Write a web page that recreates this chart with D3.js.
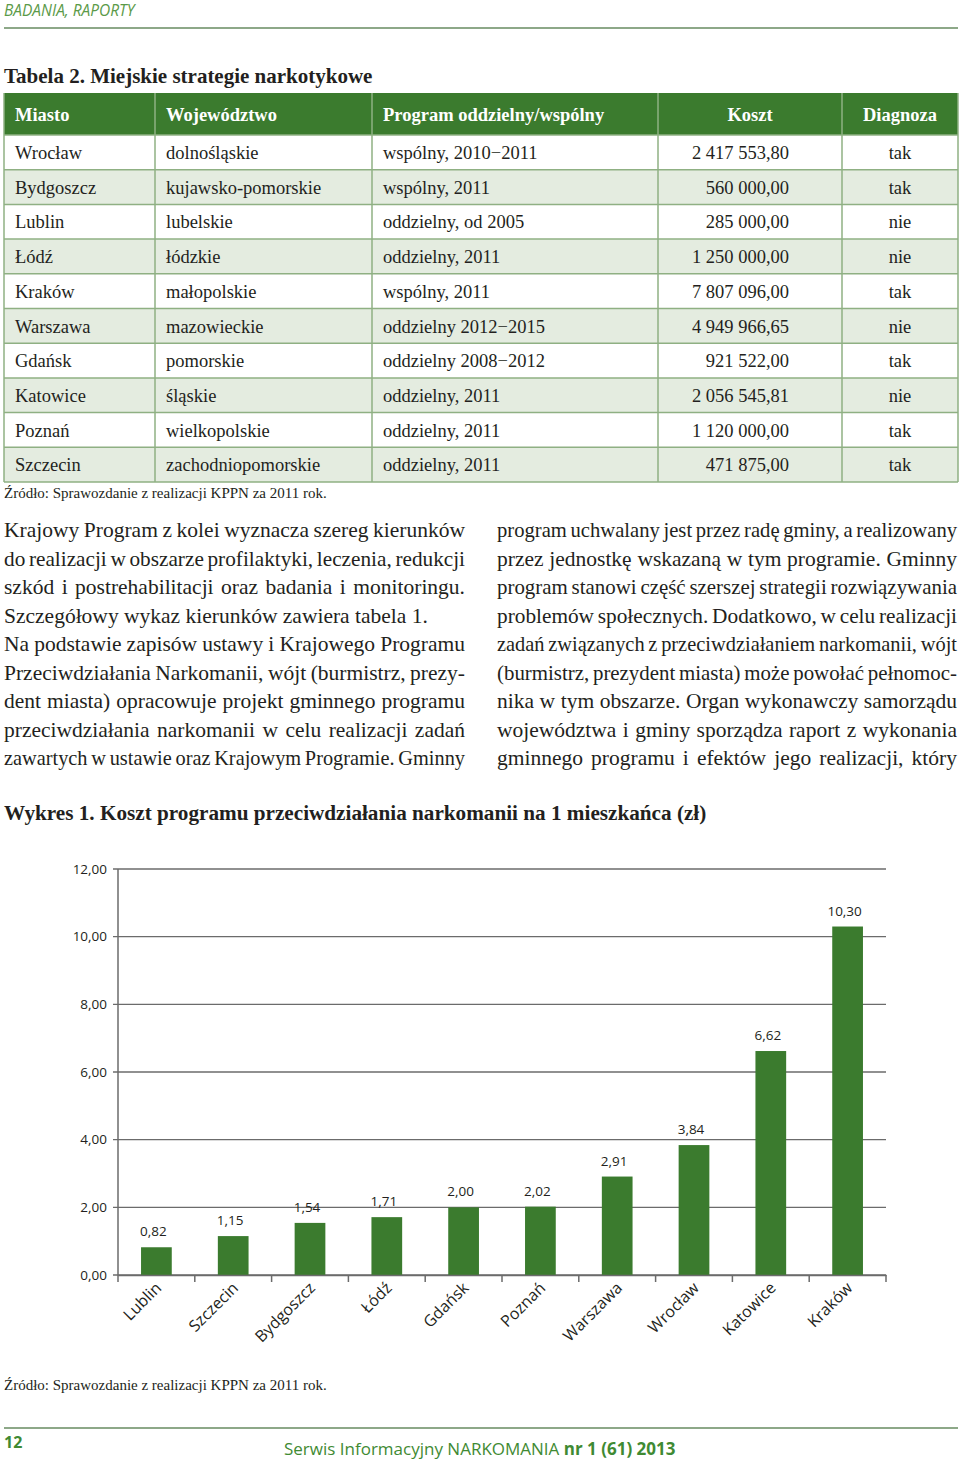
<!DOCTYPE html>
<html><head><meta charset="utf-8">
<script src="https://cdn.jsdelivr.net/npm/d3@7"></script>
<style>
html,body{margin:0;padding:0;background:#fff;}
svg{display:block;}
</style></head>
<body>
<svg id="page" width="960" height="1461"></svg>
<script>
// ---------- DATA ----------
const tableHeaders = ["Miasto", "Województwo", "Program oddzielny/wspólny", "Koszt", "Diagnoza"];
const tableCities = ["Wrocław","Bydgoszcz","Lublin","Łódź","Kraków","Warszawa","Gdańsk","Katowice","Poznań","Szczecin"];
const tableVoivodeships = ["dolnośląskie","kujawsko-pomorskie","lubelskie","łódzkie","małopolskie","mazowieckie","pomorskie","śląskie","wielkopolskie","zachodniopomorskie"];
const tablePrograms = ["wspólny, 2010−2011","wspólny, 2011","oddzielny, od 2005","oddzielny, 2011","wspólny, 2011","oddzielny 2012−2015","oddzielny 2008−2012","oddzielny, 2011","oddzielny, 2011","oddzielny, 2011"];
const tableCosts = ["2 417 553,80","560 000,00","285 000,00","1 250 000,00","7 807 096,00","4 949 966,65","921 522,00","2 056 545,81","1 120 000,00","471 875,00"];
const tableDiagnosis = ["tak","tak","nie","nie","tak","nie","tak","nie","tak","tak"];

const chartCities = ["Lublin","Szczecin","Bydgoszcz","Łódź","Gdańsk","Poznań","Warszawa","Wrocław","Katowice","Kraków"];
const chartValues = [0.82, 1.15, 1.54, 1.71, 2.00, 2.02, 2.91, 3.84, 6.62, 10.30];
const yTickValues = [0, 2, 4, 6, 8, 10, 12];

const leftColumn = [
 ["Krajowy Program z kolei wyznacza szereg kierunków", true],
 ["do realizacji w obszarze profilaktyki, leczenia, redukcji", true],
 ["szkód i postrehabilitacji oraz badania i monitoringu.", true],
 ["Szczegółowy wykaz kierunków zawiera tabela 1.", false],
 ["Na podstawie zapisów ustawy i Krajowego Programu", true],
 ["Przeciwdziałania Narkomanii, wójt (burmistrz, prezy-", true],
 ["dent miasta) opracowuje projekt gminnego programu", true],
 ["przeciwdziałania narkomanii w celu realizacji zadań", true],
 ["zawartych w ustawie oraz Krajowym Programie. Gminny", true]
];
const rightColumn = [
 ["program uchwalany jest przez radę gminy, a realizowany", true],
 ["przez jednostkę wskazaną w tym programie. Gminny", true],
 ["program stanowi część szerszej strategii rozwiązywania", true],
 ["problemów społecznych. Dodatkowo, w celu realizacji", true],
 ["zadań związanych z przeciwdziałaniem narkomanii, wójt", true],
 ["(burmistrz, prezydent miasta) może powołać pełnomoc-", true],
 ["nika w tym obszarze. Organ wykonawczy samorządu", true],
 ["województwa i gminy sporządza raport z wykonania", true],
 ["gminnego programu i efektów jego realizacji, który", true]
];

// ---------- STYLE ----------
const GREEN = "#3b7b2e";
const LIGHT = "#e4ece0";
const BORDER = "#8fb083";
const INK = "#231f20";
const SERIF = "'Liberation Serif', 'Times New Roman', serif";
const SANS = "'Open Sans', 'Noto Sans', sans-serif";

const svg = d3.select("#page");

// ---------- PAGE HEADER ----------
svg.append("text").attr("x", 4).attr("y", 16)
  .attr("font-family", SANS).attr("font-style", "italic").attr("font-size", 15.5)
  .attr("fill", "#5b9a48").text("BADANIA, RAPORTY");
svg.append("line").attr("x1", 4).attr("x2", 958).attr("y1", 28).attr("y2", 28)
  .attr("stroke", "#8da888").attr("stroke-width", 2);

// ---------- TABLE ----------
svg.append("text").attr("x", 4).attr("y", 83)
  .attr("font-family", SERIF).attr("font-weight", "bold").attr("font-size", 21)
  .attr("fill", INK).text("Tabela 2. Miejskie strategie narkotykowe");

const colEdges = [4, 155, 372, 658, 842, 958];
const tableTop = 93, headerH = 42, rowH = 34.7;
const rowScale = d3.scaleBand().domain(d3.range(tableCities.length))
  .range([tableTop + headerH, tableTop + headerH + rowH * tableCities.length]).padding(0);

const tbl = svg.append("g");
tbl.append("rect").attr("x", colEdges[0]).attr("y", tableTop)
  .attr("width", colEdges[5] - colEdges[0]).attr("height", headerH).attr("fill", GREEN);
tbl.selectAll("rect.row").data(tableCities).join("rect").attr("class", "row")
  .attr("x", colEdges[0]).attr("y", (d, i) => rowScale(i))
  .attr("width", colEdges[5] - colEdges[0]).attr("height", rowScale.bandwidth())
  .attr("fill", (d, i) => i % 2 ? LIGHT : "#fff");
tbl.selectAll("line.h").data(d3.range(tableCities.length + 1)).join("line").attr("class", "h")
  .attr("x1", colEdges[0]).attr("x2", colEdges[5])
  .attr("y1", i => tableTop + headerH + i * rowH).attr("y2", i => tableTop + headerH + i * rowH)
  .attr("stroke", BORDER).attr("stroke-width", 1.5);
tbl.selectAll("line.v").data(colEdges).join("line").attr("class", "v")
  .attr("x1", d => d).attr("x2", d => d)
  .attr("y1", tableTop).attr("y2", tableTop + headerH + rowH * tableCities.length)
  .attr("stroke", BORDER).attr("stroke-width", 1.5);

const colText = [
  {x: colEdges[0] + 11, anchor: "start"},
  {x: colEdges[1] + 11, anchor: "start"},
  {x: colEdges[2] + 11, anchor: "start"},
  {x: 789, anchor: "end", hx: (colEdges[3] + colEdges[4]) / 2},
  {x: (colEdges[4] + colEdges[5]) / 2, anchor: "middle"}
];
tbl.selectAll("text.hd").data(tableHeaders).join("text").attr("class", "hd")
  .attr("x", (d, i) => colText[i].hx !== undefined ? colText[i].hx : colText[i].x)
  .attr("text-anchor", (d, i) => colText[i].hx !== undefined ? "middle" : colText[i].anchor)
  .attr("y", tableTop + 28)
  .attr("font-family", SERIF).attr("font-weight", "bold").attr("font-size", 18.5)
  .attr("fill", "#fff").text(d => d);

const cols = [tableCities, tableVoivodeships, tablePrograms, tableCosts, tableDiagnosis];
cols.forEach((arr, c) => {
  tbl.selectAll("text.c" + c).data(arr).join("text").attr("class", "c" + c)
    .attr("x", colText[c].x).attr("text-anchor", colText[c].anchor)
    .attr("y", (d, i) => rowScale(i) + 24)
    .attr("font-family", SERIF).attr("font-size", 18.5).attr("fill", INK).text(d => d);
});

svg.append("text").attr("x", 4).attr("y", 498)
  .attr("font-family", SERIF).attr("font-size", 15).attr("fill", INK)
  .text("Źródło: Sprawozdanie z realizacji KPPN za 2011 rok.");

// ---------- BODY TEXT (justified) ----------
const BODY_FS = 21.5;
function drawColumn(lines, x0, width, y0, lh) {
  const g = svg.append("g").attr("font-family", SERIF).attr("fill", INK);
  lines.forEach(([txt, just], li) => {
    const y = y0 + li * lh;
    if (!just) { g.append("text").attr("x", x0).attr("y", y).attr("font-size", BODY_FS).text(txt); return; }
    const words = txt.split(" ");
    const lg = g.append("g").attr("font-size", BODY_FS);
    const nodes = words.map(w => lg.append("text").attr("y", y).text(w));
    let widths = nodes.map(n => n.node().getComputedTextLength());
    const minGap = 3.5;
    let sum = d3.sum(widths);
    if (sum + minGap * (words.length - 1) > width) {
      const fs = BODY_FS * (width - minGap * (words.length - 1) - 1) / sum;
      lg.attr("font-size", fs);
      widths = nodes.map(n => n.node().getComputedTextLength());
      sum = d3.sum(widths);
    }
    const gap = (width - sum) / (words.length - 1);
    let x = x0;
    nodes.forEach((n, i) => { n.attr("x", x); x += widths[i] + gap; });
  });
}
drawColumn(leftColumn, 4, 461, 537, 28.5);
drawColumn(rightColumn, 497, 460, 537, 28.5);

// ---------- CHART ----------
svg.append("text").attr("x", 4).attr("y", 820)
  .attr("font-family", SERIF).attr("font-weight", "bold").attr("font-size", 21.2)
  .attr("fill", INK).text("Wykres 1. Koszt programu przeciwdziałania narkomanii na 1 mieszkańca (zł)");

const plot = {left: 118, right: 886, top: 869, bottom: 1275};
const x = d3.scaleBand().domain(chartCities).range([plot.left, plot.right]).paddingInner(0.6).paddingOuter(0.3);
const xb = d3.scaleBand().domain(chartCities).range([plot.left, plot.right]).padding(0);
const y = d3.scaleLinear().domain([0, 12]).range([plot.bottom, plot.top]);
const fmt = v => d3.format(".2f")(v).replace(".", ",");
const AX = "#6b6b6b";

const chart = svg.append("g");
chart.selectAll("line.grid").data(yTickValues).join("line").attr("class", "grid")
  .attr("x1", plot.left - 5).attr("x2", plot.right)
  .attr("y1", d => y(d)).attr("y2", d => y(d))
  .attr("stroke", AX).attr("stroke-width", 1.4);
chart.append("line").attr("x1", plot.left).attr("x2", plot.left)
  .attr("y1", plot.top).attr("y2", plot.bottom).attr("stroke", AX).attr("stroke-width", 1.5);
chart.selectAll("text.ytl").data(yTickValues).join("text").attr("class", "ytl")
  .attr("x", plot.left - 11).attr("y", d => y(d)).attr("dy", "0.35em")
  .attr("text-anchor", "end").attr("font-family", SANS).attr("font-size", 13.5)
  .attr("fill", INK).text(fmt);

chart.selectAll("rect.bar").data(chartValues).join("rect").attr("class", "bar")
  .attr("x", (d, i) => x(chartCities[i])).attr("width", x.bandwidth())
  .attr("y", d => y(d)).attr("height", d => y(0) - y(d)).attr("fill", GREEN);

const xAxis = d3.axisBottom(xb).tickSize(0).tickFormat("");
const xg = chart.append("g").attr("transform", `translate(0,${plot.bottom})`).call(xAxis);
xg.select(".domain").attr("stroke", AX).attr("stroke-width", 1.5);
xg.selectAll(".tick").remove();
const boundaries = chartCities.map(c => xb(c)).concat([plot.right]);
chart.selectAll("line.xt").data(boundaries).join("line").attr("class", "xt")
  .attr("x1", d => d).attr("x2", d => d).attr("y1", plot.bottom).attr("y2", plot.bottom + 7)
  .attr("stroke", AX).attr("stroke-width", 1.5);

chart.selectAll("text.xl").data(chartCities).join("text").attr("class", "xl")
  .attr("transform", d => `translate(${xb(d) + xb.bandwidth() / 2 + 6},${plot.bottom + 14}) rotate(-45)`)
  .attr("text-anchor", "end").attr("font-family", SANS).attr("font-size", 16)
  .attr("fill", INK).text(d => d);

chart.selectAll("text.vl").data(chartValues).join("text").attr("class", "vl")
  .attr("x", (d, i) => x(chartCities[i]) + x.bandwidth() / 2 - 3)
  .attr("y", d => y(d) - 11)
  .attr("text-anchor", "middle").attr("font-family", SANS).attr("font-size", 13.5)
  .attr("fill", INK).text(fmt);

svg.append("text").attr("x", 4).attr("y", 1390)
  .attr("font-family", SERIF).attr("font-size", 15).attr("fill", INK)
  .text("Źródło: Sprawozdanie z realizacji KPPN za 2011 rok.");

// ---------- FOOTER ----------
svg.append("line").attr("x1", 4).attr("x2", 958).attr("y1", 1428).attr("y2", 1428)
  .attr("stroke", "#8da888").attr("stroke-width", 2);
svg.append("text").attr("x", 4).attr("y", 1448)
  .attr("font-family", SANS).attr("font-weight", "bold").attr("font-size", 16)
  .attr("fill", "#3f8a33").text("12");
const ft = svg.append("text").attr("x", 284).attr("y", 1455)
  .attr("font-family", SANS).attr("font-size", 17).attr("fill", "#3f8a33");
ft.append("tspan").text("Serwis Informacyjny NARKOMANIA ");
ft.append("tspan").attr("font-weight", "bold").text("nr 1 (61) 2013");
</script>
</body></html>
